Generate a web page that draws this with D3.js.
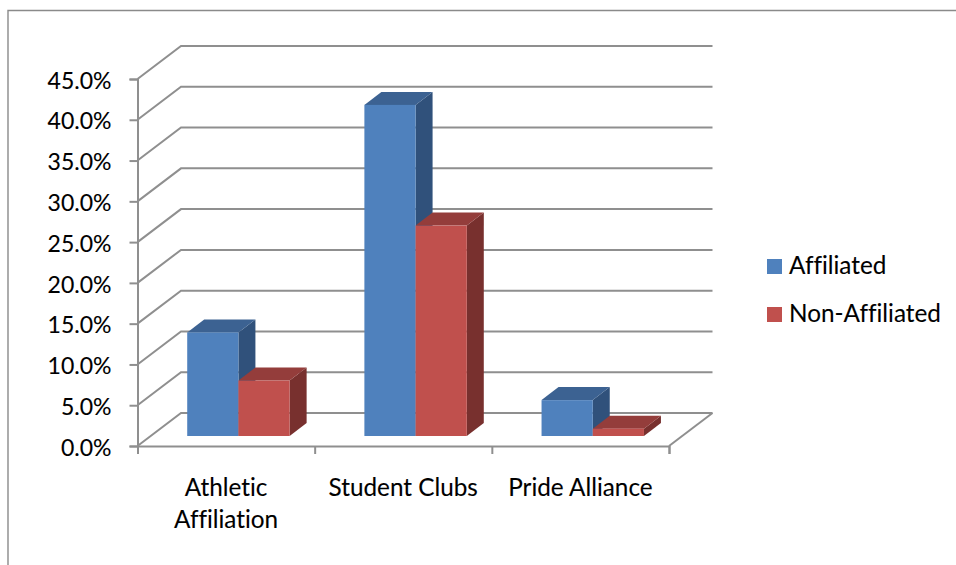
<!DOCTYPE html>
<html>
<head>
<meta charset="utf-8">
<script src="https://cdn.jsdelivr.net/npm/d3@7"></script>
<style>
  html, body { margin: 0; padding: 0; background: #fff; }
  svg { display: block; }
  text {
    font-family: Lato, "Open Sans", sans-serif;
    fill: #000; stroke: #000; stroke-width: 0.1px;
    font-variant-ligatures: none;
  }
</style>
</head>
<body>
<svg id="chart" width="956" height="565"></svg>
<script>
const categories = ["Athletic Affiliation", "Student Clubs", "Pride Alliance"];
const seriesNames = ["Affiliated", "Non-Affiliated"];
const affiliated = [12.7, 40.6, 4.4];
const nonAffiliated = [6.8, 25.8, 0.9];
const yTicks = [0, 5, 10, 15, 20, 25, 30, 35, 40, 45];

const FRONT = ["#4f81bd", "#c0504d"];
const TOP = ["#3c6292", "#943d3b"];
const SIDE = ["#30517b", "#78302e"];
const GRID = "#8f8f8f";

const svg = d3.select("#chart");

// Plot box and the oblique projection of the 3D walls
const left = 137.5, right = 669, baseY = 446, topY = 79;
const wallDx = 43.5, wallDy = 33;
const barDx = 17, barDy = 13, floorLift = 10;

const y = d3.scaleLinear().domain([0, 45]).range([baseY, topY]);
const x = d3.scaleBand().domain(categories).range([left, right]);
// Bars sit right of centre in each slot, leaving room for their depth
const sub = d3.scaleBand().domain(seriesNames)
  .range([0, x.step()]).paddingInner(0).paddingOuter(0.73).align(0.665);

// Outer chart frame, cropped along the right and bottom edges
svg.append("path")
  .attr("d", d3.line()([[8, 565], [8, 10.5], [956, 10.5]]))
  .attr("fill", "none").attr("stroke", "#8a8a8a").attr("stroke-width", 1.4);

// Gridlines: a slanted segment on the side wall, then across the back wall
const gridG = svg.append("g").attr("fill", "none")
  .attr("stroke", GRID).attr("stroke-width", 2);
gridG.selectAll("path").data(yTicks).join("path")
  .attr("d", v => d3.line()([
    [left, y(v)],
    [left + wallDx, y(v) - wallDy],
    [right + wallDx, y(v) - wallDy]
  ]));

// Front and right edges of the floor
gridG.append("path")
  .attr("d", d3.line()([
    [right, baseY],
    [right + wallDx, baseY - wallDy]
  ]));

// Value axis
const yAxis = svg.append("g")
  .attr("transform", `translate(${left},0)`)
  .call(d3.axisLeft(y).tickValues(yTicks).tickSize(8).tickPadding(18)
    .tickFormat(v => v.toFixed(1) + "%"));
yAxis.selectAll("text").attr("font-size", 23).attr("fill", "#000").attr("dy", "0.4em");

// Category axis: ticks sit on the category boundaries
const edges = d3.scaleLinear().domain([0, categories.length]).range([left, right]);
const xAxis = svg.append("g")
  .attr("transform", `translate(0,${baseY})`)
  .call(d3.axisBottom(edges).tickValues(d3.range(categories.length + 1))
    .tickSize(8).tickFormat(""));

[yAxis, xAxis].forEach(g => {
  g.selectAll(".domain, line").attr("stroke", GRID).attr("stroke-width", 2);
});

// Category labels, wrapped the way the chart wraps them
const labelLines = d => d === "Athletic Affiliation" ? ["Athletic", "Affiliation"] : [d];
svg.append("g").selectAll("text").data(categories).join("text")
  .attr("text-anchor", "middle")
  .attr("font-size", 24.3)
  .attr("transform", d => `translate(${x(d) + x.bandwidth() / 2},496)`)
  .each(function (d) {
    d3.select(this).selectAll("tspan").data(labelLines(d)).join("tspan")
      .attr("x", 0).attr("dy", (_, i) => i ? 32 : 0).text(t => t);
  });

// 3D bars: back-to-front so each bar's side is covered by the next front face
const barRows = categories.flatMap((c, i) => [
  { cat: c, s: 0, value: affiliated[i] },
  { cat: c, s: 1, value: nonAffiliated[i] }
]);
const bars = svg.append("g").selectAll("g").data(barRows).join("g");
const bx = d => x(d.cat) + sub(seriesNames[d.s]);
const bw = sub.bandwidth();
const floorY = baseY - floorLift;
const byTop = d => y(d.value) - floorLift;

bars.append("path").attr("fill", d => SIDE[d.s])
  .attr("d", d => d3.line()([
    [bx(d) + bw, byTop(d)],
    [bx(d) + bw + barDx, byTop(d) - barDy],
    [bx(d) + bw + barDx, floorY - barDy],
    [bx(d) + bw, floorY]
  ]) + "Z");
bars.append("path").attr("fill", d => TOP[d.s])
  .attr("d", d => d3.line()([
    [bx(d), byTop(d)],
    [bx(d) + barDx, byTop(d) - barDy],
    [bx(d) + bw + barDx, byTop(d) - barDy],
    [bx(d) + bw, byTop(d)]
  ]) + "Z");
bars.append("rect").attr("fill", d => FRONT[d.s])
  .attr("x", bx).attr("y", byTop).attr("width", bw)
  .attr("height", d => floorY - byTop(d));

// Legend
const legendY = d3.scalePoint().domain(seriesNames).range([266.5, 314.5]);
const legend = svg.append("g").selectAll("g").data(seriesNames).join("g")
  .attr("transform", d => `translate(767,${legendY(d)})`);
legend.append("rect").attr("y", -7.5).attr("width", 15).attr("height", 15)
  .attr("fill", (_, i) => FRONT[i]);
legend.append("text").attr("x", 22).attr("y", 7.5).attr("font-size", 24.3).text(d => d);
</script>
</body>
</html>
